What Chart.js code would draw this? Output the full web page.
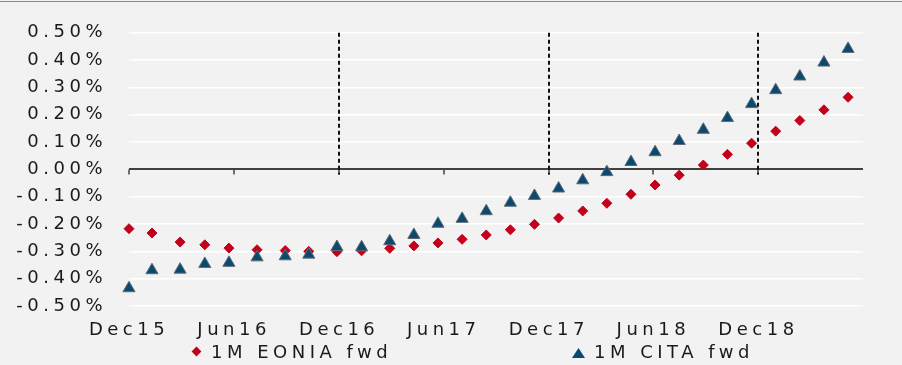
<!DOCTYPE html>
<html>
<head>
<meta charset="utf-8">
<script src="https://cdn.jsdelivr.net/npm/chart.js@4.4.1/dist/chart.umd.min.js"></script>
<style>
  html, body { margin: 0; padding: 0; background: #f2f2f2; }
  #wrap { position: relative; width: 902px; height: 365px; overflow: hidden; }
  #topline { position: absolute; left: 0; top: 1px; width: 902px; height: 1px; background: #8a8a8a; }
  canvas { position: absolute; left: 0; top: 0; }
  .legend-item { position: absolute; top: 341px; height: 22px; line-height: 22px;
    font: 18px "DejaVu Sans", sans-serif; letter-spacing: 4.5px; color: #1a1a1a; white-space: nowrap; }
  .marker { position: absolute; }
  .diamond { width: 7px; height: 7px; transform: rotate(45deg); }
  .triangle { width: 13px; height: 10px; clip-path: polygon(50% 0, 100% 100%, 0 100%); }
</style>
</head>
<body>
<div id="wrap">
  <div id="topline"></div>
  <canvas id="chart" width="902" height="365"></canvas>
  <div id="legend"></div>
</div>
<script>
const originDate = "2015-12-01";
const axisEndDate = "2019-06-01";
const tickDates = ["2015-12-01", "2016-06-01", "2016-12-01", "2017-06-01", "2017-12-01", "2018-06-01", "2018-12-01"];
const tickLabels = ["Dec15", "Jun16", "Dec16", "Jun17", "Dec17", "Jun18", "Dec18"];

const pointDates = [
  "2015-12-01", "2016-01-10", "2016-02-28", "2016-04-11", "2016-05-23", "2016-07-11",
  "2016-08-29", "2016-10-09", "2016-11-27", "2017-01-09", "2017-02-27", "2017-04-10",
  "2017-05-22", "2017-07-03", "2017-08-14", "2017-09-25", "2017-11-06", "2017-12-18",
  "2018-01-29", "2018-03-12", "2018-04-23", "2018-06-04", "2018-07-16", "2018-08-27",
  "2018-10-08", "2018-11-19", "2018-12-31", "2019-02-11", "2019-03-25", "2019-05-06",
];
const eoniaFwd = [
  -0.217, -0.233, -0.266, -0.276, -0.288, -0.294, -0.297, -0.300, -0.301, -0.298,
  -0.289, -0.280, -0.269, -0.256, -0.240, -0.221, -0.201, -0.178, -0.152, -0.124,
  -0.091, -0.057, -0.021, 0.016, 0.055, 0.096, 0.140, 0.179, 0.218, 0.264,
];
const citaFwd = [
  -0.435, -0.369, -0.367, -0.346, -0.342, -0.322, -0.318, -0.312, -0.284, -0.285,
  -0.263, -0.240, -0.199, -0.181, -0.153, -0.122, -0.097, -0.070, -0.040, -0.010,
  0.027, 0.063, 0.104, 0.145, 0.188, 0.239, 0.290, 0.340, 0.391, 0.441,
];
const seriesNames = ["1M EONIA fwd", "1M CITA fwd"];

const EONIA_RED = "#c3001c";
const CITA_BLUE = "#0b4a6e";
const CITA_EDGE = "#5e6a75";
const TEXT = "#1a1a1a";
const LETTER_SPACING = "4.5px";

function dayOffset(iso) {
  return (Date.parse(iso) - Date.parse(originDate)) / 86400000;
}

function toPoints(values) {
  return pointDates.map((date, i) => ({ x: dayOffset(date), y: values[i] }));
}

// wide-looking labels like the original
const letterSpacing = {
  id: "letterSpacing",
  beforeUpdate(chart) { chart.ctx.letterSpacing = LETTER_SPACING; },
  beforeDraw(chart) { chart.ctx.letterSpacing = LETTER_SPACING; },
};

// tick marks on the zero line and the dashed year-end separators
const zeroAxis = {
  id: "zeroAxis",
  beforeDatasetsDraw(chart) {
    const { ctx, chartArea, scales } = chart;
    const y0 = scales.y.getPixelForValue(0);
    ctx.save();
    ctx.strokeStyle = "#404040";
    ctx.lineWidth = 1.5;
    tickDates.forEach((date) => {
      const x = Math.round(scales.x.getPixelForValue(dayOffset(date)));
      ctx.beginPath();
      ctx.moveTo(x, y0);
      ctx.lineTo(x, y0 + 5);
      ctx.stroke();
    });
    ctx.strokeStyle = "#111111";
    ctx.lineWidth = 2;
    ctx.setLineDash([4, 3]);
    tickDates.forEach((date, i) => {
      if (i === 0 || !tickLabels[i].startsWith("Dec")) {
        return;
      }
      const x = Math.round(scales.x.getPixelForValue(dayOffset(date)));
      ctx.beginPath();
      ctx.moveTo(x, chartArea.top);
      ctx.lineTo(x, y0 + 5);
      ctx.stroke();
    });
    ctx.restore();
  },
};

Chart.defaults.font.family = '"DejaVu Sans", sans-serif';
Chart.defaults.font.size = 18;
Chart.defaults.color = TEXT;

new Chart(document.getElementById("chart"), {
  type: "scatter",
  data: {
    datasets: [
      {
        label: seriesNames[0],
        data: toPoints(eoniaFwd),
        pointStyle: "rectRot",
        pointRadius: 5,
        backgroundColor: EONIA_RED,
        borderColor: EONIA_RED,
        borderWidth: 1,
        clip: false,
        order: 1,
      },
      {
        label: seriesNames[1],
        data: toPoints(citaFwd),
        pointStyle: "triangle",
        pointRadius: 7,
        backgroundColor: CITA_BLUE,
        borderColor: CITA_EDGE,
        borderWidth: 1,
        clip: false,
        order: 0,
      },
    ],
  },
  options: {
    responsive: false,
    animation: false,
    layout: { padding: { top: 32, right: 39, left: 0, bottom: 0 } },
    plugins: {
      legend: { display: false },
      tooltip: { enabled: false },
    },
    scales: {
      x: {
        type: "linear",
        min: 0,
        max: dayOffset(axisEndDate),
        afterBuildTicks(scale) {
          scale.ticks = tickDates.map((date) => ({ value: dayOffset(date) }));
        },
        afterFit(scale) { scale.height = 59; },
        grid: { display: false, drawTicks: false },
        border: { display: false },
        ticks: {
          autoSkip: false,
          maxRotation: 0,
          padding: 14,
          callback: (value, index) => tickLabels[index] || "",
        },
      },
      y: {
        min: -0.5,
        max: 0.5,
        afterFit(scale) { scale.width = 129; },
        grid: {
          drawTicks: false,
          color: (ctx) => (Math.abs(ctx.tick.value) < 1e-9 ? "#404040" : "#ffffff"),
          lineWidth: (ctx) => (Math.abs(ctx.tick.value) < 1e-9 ? 2 : 1.5),
        },
        border: { display: false },
        ticks: {
          stepSize: 0.1,
          padding: 22,
          callback: (value) => (Math.abs(value) < 1e-9 ? 0 : value).toFixed(2) + "%",
        },
      },
    },
  },
  plugins: [letterSpacing, zeroAxis],
});

// legend, kept as html text
const legend = document.getElementById("legend");
const legendSpots = [
  { markerLeft: 193, markerTop: 348, textLeft: 211, cls: "diamond", color: EONIA_RED },
  { markerLeft: 572, markerTop: 348, textLeft: 594, cls: "triangle", color: CITA_BLUE },
];
seriesNames.forEach((name, i) => {
  const spot = legendSpots[i];
  const marker = document.createElement("div");
  marker.className = "marker " + spot.cls;
  marker.style.left = spot.markerLeft + "px";
  marker.style.top = spot.markerTop + "px";
  marker.style.background = spot.color;
  legend.appendChild(marker);
  const text = document.createElement("div");
  text.className = "legend-item";
  text.style.left = spot.textLeft + "px";
  text.textContent = name;
  legend.appendChild(text);
});
</script>
</body>
</html>
